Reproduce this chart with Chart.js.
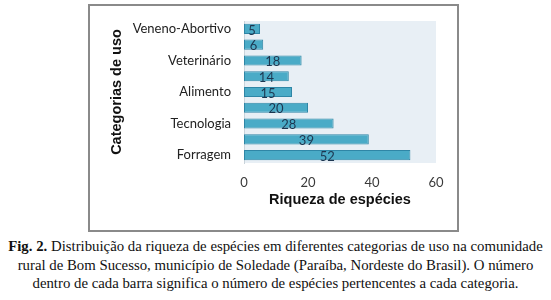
<!DOCTYPE html>
<html>
<head>
<meta charset="utf-8">
<script src="https://cdn.jsdelivr.net/npm/chart.js@4.4.1/dist/chart.umd.min.js"></script>
<style>
  html, body { margin: 0; padding: 0; background: #fff; width: 551px; height: 300px; overflow: hidden; }
  #box { position: absolute; left: 88px; top: 4px; width: 367px; height: 224px; border: 2px solid #8a8a8a; }
  #wrap { position: absolute; left: 0; top: 0; width: 551px; height: 235px; }
  #caption { position: absolute; left: 0; top: 237px; width: 551px; text-align: center;
    font-family: "Liberation Serif", "Times New Roman", Times, serif; font-size: 14.8px; line-height: 18.6px; color: #111; white-space: nowrap; }
</style>
</head>
<body>
<div id="box"></div>
<div id="wrap"><canvas id="c" width="551" height="235"></canvas></div>
<div id="caption"><b>Fig. 2.</b> Distribuição da riqueza de espécies em diferentes categorias de uso na comunidade<br>rural de Bom Sucesso, município de Soledade (Paraíba, Nordeste do Brasil). O número<br>dentro de cada barra significa o número de espécies pertencentes a cada categoria.</div>
<script>
const categories = ["Veneno-Abortivo", "Mágico-religioso", "Veterinário", "Medicinal", "Alimento", "Construção", "Tecnologia", "Combustível", "Forragem"];
const values = [5, 6, 18, 14, 15, 20, 28, 39, 52];
const xTickValues = [0, 20, 40, 60];
const yTitle = "Categorias de uso";
const xTitle = "Riqueza de espécies";

const plotBg = {
  id: 'plotBg',
  beforeDraw(chart) {
    const {ctx, chartArea: a} = chart;
    ctx.save();
    ctx.fillStyle = '#e8eff5';
    ctx.fillRect(a.left, a.top, a.right - a.left, a.bottom - a.top);
    ctx.restore();
  }
};
const valueLabels = {
  id: 'valueLabels',
  afterDatasetsDraw(chart) {
    const {ctx} = chart;
    const meta = chart.getDatasetMeta(0);
    ctx.save();
    ctx.font = '13px Lato, "Liberation Sans", sans-serif';
    ctx.fillStyle = '#1d3650';
    ctx.textAlign = 'center';
    ctx.textBaseline = 'middle';
    meta.data.forEach((bar, i) => {
      const x = (bar.base + bar.x) / 2;
      ctx.fillText(String(values[i]), x, bar.y + 1.5);
    });
    ctx.restore();
  }
};

new Chart(document.getElementById('c'), {
  type: 'bar',
  data: {
    labels: categories,
    datasets: [{
      data: values,
      backgroundColor: '#4aabc7',
      borderColor: '#2f86a6',
      borderWidth: 1,
      borderSkipped: false,
      barPercentage: 0.64,
      categoryPercentage: 1.0
    }]
  },
  options: {
    indexAxis: 'y',
    responsive: false,
    animation: false,
    devicePixelRatio: 1,
    layout: { padding: { left: 100, right: 115, top: 21, bottom: 22 } },
    plugins: { legend: { display: false }, tooltip: { enabled: false } },
    scales: {
      x: {
        min: 0, max: 60,
        afterBuildTicks(scale) { scale.ticks = xTickValues.map(v => ({ value: v })); },
        afterFit(scale) { scale.height = 50; },
        grid: { display: false, drawTicks: false },
        border: { display: false },
        ticks: { padding: 12, color: '#3a3a3a', font: { family: 'Lato, "Liberation Sans", sans-serif', size: 13 } },
        title: { display: true, text: xTitle, color: '#111', padding: { top: 0, bottom: 4 },
          font: { family: '"Liberation Sans", Arial, sans-serif', size: 14.5, weight: 'bold' } }
      },
      y: {
        afterFit(scale) { scale.width = 144; },
        grid: { display: false, drawTicks: false },
        border: { display: true, color: '#c9d3da', width: 1 },
        ticks: {
          padding: 13, color: '#222', autoSkip: false,
          font: { family: 'Lato, "Liberation Sans", sans-serif', size: 13 },
          callback(v, i) { return i % 2 === 0 ? categories[i] : ''; }
        },
        title: { display: true, text: yTitle, color: '#111', padding: { top: 8, bottom: 0 },
          font: { family: '"Liberation Sans", Arial, sans-serif', size: 14.5, weight: 'bold' } }
      }
    }
  },
  plugins: [plotBg, valueLabels]
});
</script>
</body>
</html>
